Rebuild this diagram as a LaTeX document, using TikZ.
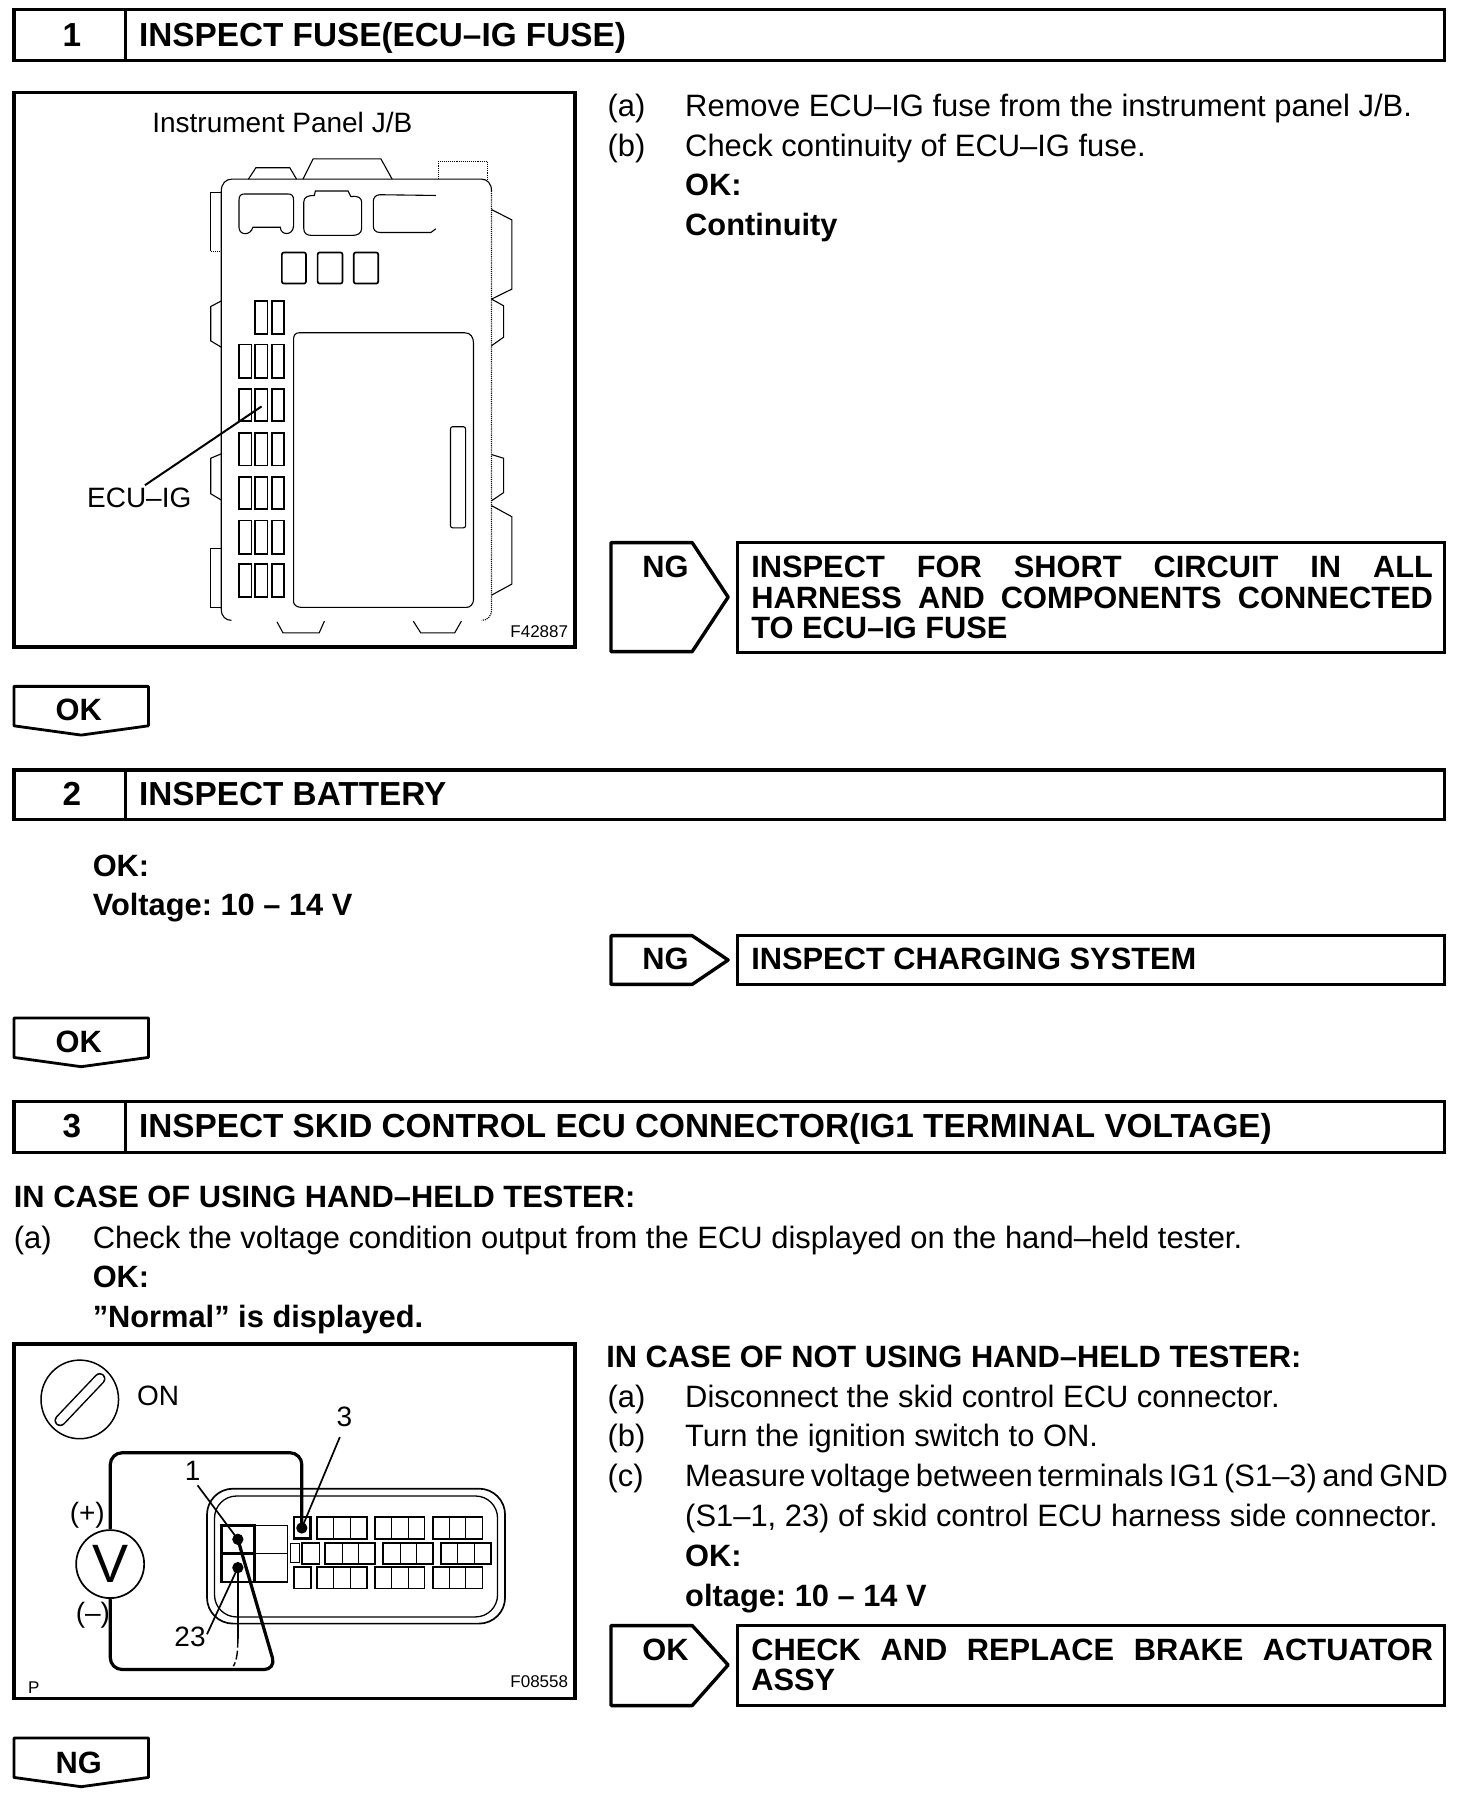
\documentclass[tikz,border=0pt]{standalone}
\usepackage{fontspec}
\setmainfont{Liberation Sans}
\frenchspacing
\tikzset{
 frame/.style={draw=black,line width=3.4pt,fill=none},
 txt/.style={anchor=base west,inner sep=0pt,outer sep=0pt,yshift=0.2pt,font=\fontsize{30.9}{30}\selectfont},
 bld/.style={anchor=base west,inner sep=0pt,outer sep=0pt,yshift=0.2pt,font=\fontsize{30.8}{30}\selectfont\bfseries},
 hdg/.style={bld,font=\fontsize{33.3}{30}\selectfont\bfseries},
 hdgc/.style={hdg,anchor=base},
 bldc/.style={bld,anchor=base},
 lab/.style={anchor=center,inner sep=0pt,font=\fontsize{28}{28}\selectfont},
 code/.style={anchor=base east,inner sep=0pt,font=\fontsize{17}{17}\selectfont},
 thinl/.style={line width=1.1pt},
 fuse/.style={line width=1.7pt},
 wire/.style={line width=3.2pt,rounded corners=12pt},
 lead/.style={line width=1.7pt},
}
\begin{document}
\begin{tikzpicture}[x=1.15906pt,y=-1.15906pt]
\useasboundingbox (0,0) rectangle (1270,1568);
\fill[white] (0,0) rectangle (1270,1568);
% headings
\draw[frame] (12,8) rectangle (1246,52) (108,8) -- (108,52);
\node[hdgc] (h1n) at (62,40) {1};
\node[hdg] (h1t) at (120,40) {INSPECT FUSE(ECU--IG FUSE)};
\draw[frame] (12,664) rectangle (1246,707) (108,664) -- (108,707);
\node[hdgc] (h2n) at (62,695) {2};
\node[hdg] (h2t) at (120,695) {INSPECT BATTERY};
\draw[frame] (12,950) rectangle (1246,994) (108,950) -- (108,994);
\node[hdgc] (h3n) at (62,981) {3};
\node[hdg] (h3t) at (120,981) {INSPECT SKID CONTROL ECU CONNECTOR(IG1 TERMINAL VOLTAGE)};
% panel frames
\draw[frame] (12,80) rectangle (496,558);
\draw[frame] (12,1159) rectangle (496,1465);
% step 1 text
\node[txt] (a1) at (524,101) {(a)};
\node[txt] (a1t) at (591,101) {Remove ECU--IG fuse from the instrument panel J/B.};
\node[txt] (b1) at (524,135) {(b)};
\node[txt] (b1t) at (591,135) {Check continuity of ECU--IG fuse.};
\node[bld] (ok1) at (591,169) {OK:};
\node[bld] (ok1t) at (591,203) {Continuity};
% NG 1
\draw[frame,line join=round] (527,468) -- (597,468) -- (628,515) -- (597,562) -- (527,562) -- cycle;
\node[bldc] (ng1) at (574,498) {NG};
\draw[frame] (636,468) rectangle (1246,563);
\node[bld] (n1a) at (648,498) {\hbox to 681.5pt{INSPECT\hfil FOR\hfil SHORT\hfil CIRCUIT\hfil IN\hfil ALL}};
\node[bld] (n1b) at (648,525) {\hbox to 681.5pt{HARNESS\hfil AND\hfil COMPONENTS\hfil CONNECTED}};
\node[bld] (n1c) at (648,551) {TO ECU--IG FUSE};
% OK arrow 1
\draw[frame,line width=2.8pt,line join=round] (12,592) -- (128,592) -- (128,626) -- (70,634) -- (12,626) -- cycle;
\node[bldc] (okd1) at (68,622) {OK};
% step 2
\node[bld] (ok2) at (80,756) {OK:};
\node[bld] (ok2t) at (80,790) {Voltage: 10 -- 14 V};
\draw[frame,line join=round] (527,807) -- (597,807) -- (628,828) -- (597,849) -- (527,849) -- cycle;
\node[bldc] (ng2) at (574,836) {NG};
\draw[frame] (636,807) rectangle (1246,849);
\node[bld] (n2) at (648,836) {INSPECT CHARGING SYSTEM};
\draw[frame,line width=2.8pt,line join=round] (12,878) -- (128,878) -- (128,912) -- (70,920) -- (12,912) -- cycle;
\node[bldc] (okd2) at (68,908) {OK};
% step 3
\node[bld] (c3) at (12,1042) {IN CASE OF USING HAND--HELD TESTER:};
\node[txt] (a3) at (12,1077) {(a)};
\node[txt] (a3t) at (80,1077) {Check the voltage condition output from the ECU displayed on the hand--held tester.};
\node[bld] (ok3) at (80,1111) {OK:};
\node[bld] (ok3t) at (80,1145) {"Normal" is displayed.};
\node[bld] (c4) at (523,1180) {IN CASE OF NOT USING HAND--HELD TESTER:};
\node[txt] (a4) at (524,1214) {(a)};
\node[txt] (a4t) at (591,1214) {Disconnect the skid control ECU connector.};
\node[txt] (b4) at (524,1248) {(b)};
\node[txt] (b4t) at (591,1248) {Turn the ignition switch to ON.};
\node[txt] (c4l) at (524,1282) {(c)};
\node[txt] (c4t) at (591,1282) {\spaceskip=5.4pt Measure voltage between terminals IG1 (S1--3) and GND};
\node[txt] (c4u) at (591,1317) {(S1--1, 23) of skid control ECU harness side connector.};
\node[bld] (ok4) at (591,1351) {OK:};
\node[bld] (ok4t) at (591,1386) {oltage: 10 -- 14 V};
\draw[frame,line join=round] (527,1402) -- (597,1402) -- (628,1436) -- (597,1471) -- (527,1471) -- cycle;
\node[bldc] (ok5) at (574,1432) {OK};
\draw[frame] (636,1402) rectangle (1246,1471);
\node[bld] (n3a) at (648,1432) {\hbox to 681.5pt{CHECK\hfil AND\hfil REPLACE\hfil BRAKE\hfil ACTUATOR}};
\node[bld] (n3b) at (648,1458) {ASSY};
\draw[frame,line width=2.8pt,line join=round] (12,1499) -- (128,1499) -- (128,1533) -- (70,1541) -- (12,1533) -- cycle;
\node[bldc] (ngd) at (68,1530) {NG};
% J/B drawing
\begin{scope}[shift={(0,69)},xscale=.3246,yscale=.3192]
 \node[lab] (jb) at (750,115) {Instrument Panel J/B};
 \node[lab] (eculab) at (370,1130) {ECU--IG};
 \node[code] (f1) at (1510,1507) {F42887};
 \draw[thinl] (615,1460) .. controls (600,1460) and (588,1450) .. (588,1430) -- (588,300) .. controls (588,280) and (600,268) .. (615,268) -- (1280,268) .. controls (1295,268) and (1306,280) .. (1306,300);
 \draw[thinl,densely dotted] (1306,300) -- (1306,1430) .. controls (1306,1450) and (1295,1460) .. (1280,1460);
 % tabs top
 \draw[thinl] (660,268) -- (680,237) -- (770,237) -- (788,268);
 \draw[thinl] (805,268) -- (832,213) -- (1012,213) -- (1042,268);
 \draw[thinl,densely dotted] (1165,268) -- (1165,220) -- (1295,220) -- (1295,268);
 % tabs left
 \draw[thinl] (588,305) -- (560,305) -- (560,463);
 \draw[thinl,densely dotted] (560,463) -- (588,463);
 \draw[thinl] (588,597) -- (560,612) -- (560,705) -- (588,722);
 \draw[thinl] (588,1010) -- (560,1022) -- (560,1118) -- (588,1135);
 \draw[thinl] (588,1266) -- (560,1266) -- (560,1425) -- (588,1425);
 % tabs right
 \draw[thinl] (1306,350) -- (1360,378) -- (1360,565) -- (1306,592);
 \draw[thinl] (1306,592) -- (1338,610) -- (1338,695) -- (1306,718);
 \draw[thinl] (1306,1012) -- (1338,1022) -- (1338,1115) -- (1306,1137);
 \draw[thinl] (1306,1150) -- (1360,1180) -- (1360,1362) -- (1306,1392);
 % tabs bottom
 \draw[thinl] (736,1464) -- (752,1494) -- (848,1494) -- (862,1462);
 \draw[thinl] (1098,1462) -- (1118,1494) -- (1208,1494) -- (1226,1462);
 % sockets
 \draw[thinl] (635,325) .. controls (635,312) and (640,308) .. (650,308) -- (765,308) .. controls (775,308) and (780,312) .. (780,325) -- (780,395) .. controls (778,422) and (745,420) .. (745,398) -- (672,398) .. controls (665,422) and (635,420) .. (635,398) -- cycle;
 \draw[thinl] (807,330) .. controls (807,315) and (820,312) .. (835,312) -- (838,300) -- (925,300) -- (932,315) .. controls (950,312) and (961,318) .. (961,330) -- (961,400) .. controls (961,415) and (950,420) .. (935,420) -- (830,420) .. controls (815,420) and (807,415) .. (807,400) -- cycle;
 \draw[thinl] (1158,312) -- (1010,310) .. controls (998,310) and (992,318) .. (992,328) -- (992,395) .. controls (992,405) and (998,412) .. (1010,412) -- (1145,412) -- (1158,402);
 % relay squares
 \foreach \xa/\xb in {749/813,844/910,940/1005} \draw[fuse,rounded corners=2pt] (\xa,466) rectangle (\xb,550);
 % fuses
 \foreach \ya/\yb in {715/805,835/922,953/1042,1072/1160,1190/1280,1307/1397}
  \foreach \xa/\xb in {635/668,677/711,722/755} \draw[fuse] (\xa,\ya) rectangle (\xb,\yb);
 \foreach \xa/\xb in {677/711,722/755} \draw[fuse] (\xa,597) rectangle (\xb,687);
 % big cover
 \draw[thinl] (780,1410) -- (780,700) .. controls (780,690) and (785,683) .. (795,683) -- (1235,683) .. controls (1250,683) and (1258,695) .. (1258,710) -- (1258,1405) .. controls (1258,1415) and (1250,1425) .. (1240,1425) -- (800,1425) .. controls (790,1425) and (780,1418) .. (780,1410) -- cycle;
 \draw[thinl,rounded corners=2pt] (1197,937) rectangle (1237,1210);
 % leader
 \coordinate (fusepoint) at (695,882);
 \coordinate (ecufoot) at (385,1095);
 \draw[line width=2pt] (ecufoot) -- (fusepoint);
\end{scope}
% test drawing
\node[draw,circle,line width=1.7pt,inner sep=0pt,minimum size=68pt,font=\fontsize{54}{54}\selectfont] (vm) at (95,1349) {V};
\begin{scope}[shift={(0,1147.5)},xscale=.3246,yscale=.2873]
 \draw[line width=1.5pt] (212,207) circle [x radius=103,y radius=118];
 \draw[line width=1.5pt,double,double distance=8.5pt,line cap=round] (160,270) -- (265,145);
 \node[lab] (on) at (420,195) {ON};
 \node[lab] (n3) at (915,258) {3};
 \node[lab] (n1) at (512,420) {1};
 \node[lab] (n23) at (505,920) {23};
 \node[lab] (plus) at (232,555) {(+)};
 \node[lab] (minus) at (247,855) {(--)};
 \node[code,anchor=base] (pl) at (90,1090) {P};
 \node[code] (f2) at (1510,1072) {F08558};
 % connector body
 \draw[line width=1.7pt,rounded corners=26pt] (550,475) rectangle (1342,880);
 \draw[line width=1.3pt,rounded corners=22pt] (570,497) rectangle (1322,860);
 \foreach \xa/\xb/\xc/\xd in {842/887/932/975,996/1041/1086/1128,1150/1195/1238/1282} {
  \foreach \ya/\yb in {560/625,710/775} {
   \draw[fuse] (\xa,\ya) rectangle (\xd,\yb);
   \draw[thinl] (\xb,\ya) -- (\xb,\yb) (\xc,\ya) -- (\xc,\yb);
  }
 }
 \foreach \xa/\xb/\xc/\xd in {863/910/953/997,1018/1063/1107/1150,1171/1216/1260/1304} {
  \draw[fuse] (\xa,637) rectangle (\xd,702);
  \draw[thinl] (\xb,637) -- (\xb,702) (\xc,637) -- (\xc,702);
 }
 \draw[thinl] (771,640) rectangle (795,697);
 \draw[fuse] (802,637) rectangle (849,702);
 \draw[fuse] (781,710) rectangle (826,775);
 \draw[line width=2.4pt] (781,560) rectangle (825,625);
 \draw[thinl] (677,585) rectangle (765,755) (677,670) -- (765,670);
 \draw[line width=2.6pt] (588,585) rectangle (677,755) (588,670) -- (677,670);
 % pins
 \coordinate (p3) at (802,593);
 \coordinate (p1) at (632,627);
 \coordinate (p23) at (632,712);
 \fill (p3) circle [x radius=15,y radius=17];
 \fill (p1) circle [x radius=15,y radius=17];
 \fill (p23) circle [x radius=15,y radius=17];
 % wires
 \coordinate (w1a) at (293,367);
 \coordinate (w1b) at (802,367);
 \coordinate (w2a) at (293,1018);
 \coordinate (w2b) at (733,1018);
 \coordinate (w3a) at (632,925);
 \coordinate (w3b) at (620,1008);
 \draw[wire] (vm.north) -- (w1a) -- (w1b) -- (p3);
 \draw[wire] (vm.south) -- (w2a) -- (w2b) -- (p1);
 \draw[line width=2.6pt] (p23) -- (w3a);
 \draw[line width=1.4pt,dashed,dash pattern=on 9pt off 3pt] (w3a) .. controls (632,960) and (630,990) .. (w3b);
 % leaders
 \coordinate (l1) at (525,465);
 \coordinate (l3) at (903,320);
 \coordinate (l23) at (550,912);
 \draw[lead] (l1) -- (p1);
 \draw[lead] (l3) -- (p3);
 \draw[lead] (l23) -- (p23);
\end{scope}
\end{tikzpicture}
\end{document}
